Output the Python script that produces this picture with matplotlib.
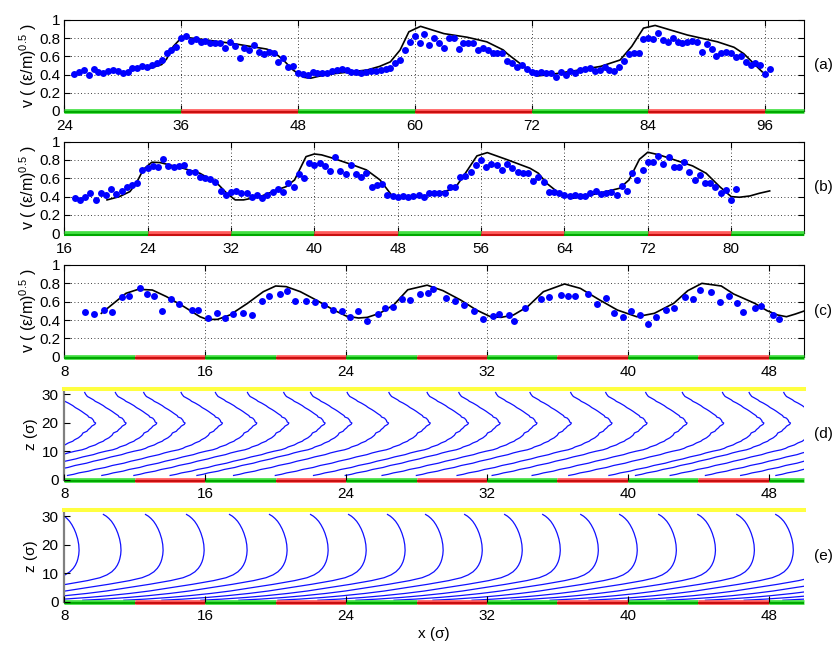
import numpy as np
import matplotlib
matplotlib.use('Agg')
import matplotlib.pyplot as plt
from matplotlib.transforms import offset_copy

plt.rcParams['font.family'] = ['Liberation Sans', 'DejaVu Sans']
plt.rcParams['mathtext.fontset'] = 'custom'
plt.rcParams['mathtext.rm'] = 'Liberation Sans'
plt.rcParams['mathtext.it'] = 'Liberation Sans:italic'
plt.rcParams['font.size'] = 11

# ---- panel (a): measured points and model curve ----
xa_dots = np.arange(25, 96.51, 0.5)
va_dots = [0.407, 0.432, 0.451, 0.396, 0.458, 0.432, 0.421, 0.443, 0.451, 0.440,
           0.421, 0.432, 0.469, 0.469, 0.495, 0.487, 0.505, 0.531, 0.560, 0.641,
           0.670, 0.707, 0.799, 0.824, 0.773, 0.788, 0.762, 0.773, 0.751, 0.744,
           0.744, 0.689, 0.762, 0.714, 0.579, 0.689, 0.670, 0.725, 0.652, 0.626,
           0.652, 0.634, 0.542, 0.579, 0.487, 0.495, 0.421, 0.407, 0.396, 0.432,
           0.421, 0.414, 0.421, 0.440, 0.451, 0.465, 0.451, 0.432, 0.432, 0.414,
           0.432, 0.436, 0.443, 0.447, 0.458, 0.469, 0.524, 0.560, 0.670, 0.762,
           0.824,
           0.744, 0.842, 0.725, 0.806, 0.751, 0.689, 0.799, 0.799, 0.678, 0.751,
           0.744, 0.744, 0.670, 0.689, 0.670, 0.641, 0.641, 0.641, 0.553, 0.531,
           0.487, 0.505, 0.458, 0.432, 0.421, 0.432, 0.421, 0.414, 0.377, 0.432,
           0.396, 0.443, 0.414, 0.451, 0.465, 0.469, 0.443, 0.451, 0.487, 0.451,
           0.443, 0.487, 0.549, 0.626, 0.641, 0.634, 0.788, 0.799, 0.788, 0.853,
           0.780, 0.762, 0.799, 0.762, 0.751, 0.762, 0.773, 0.762, 0.652, 0.736,
           0.678, 0.604, 0.634, 0.652, 0.641, 0.597, 0.604, 0.542, 0.505, 0.524,
           0.505, 0.407, 0.458]
xa_line = [32.8, 34.0, 34.5, 35.2, 35.9, 36.4, 37.9, 41.4, 44.8, 45.5, 46.5, 47.5,
           48.6, 49.3, 50.3, 51.7, 53.4, 55.1, 56.4, 57.5, 58.5, 59.4, 60.6, 63.0,
           65.4, 67.4, 69.1, 69.5, 71.2, 72.6, 73.9, 76.3, 79.1, 81.1, 82.3, 83.5,
           84.7, 88.0, 91.1, 92.8, 93.8, 95.7]
va_line = [0.47, 0.51, 0.57, 0.71, 0.79, 0.81, 0.79, 0.74, 0.68, 0.65, 0.56, 0.45,
           0.37, 0.36, 0.385, 0.41, 0.43, 0.45, 0.49, 0.54, 0.67, 0.87, 0.93, 0.85,
           0.81, 0.76, 0.67, 0.63, 0.49, 0.385, 0.40, 0.44, 0.49, 0.56, 0.71, 0.91,
           0.94, 0.835, 0.76, 0.70, 0.63, 0.43]
wall_a = [24, 36, 48, 60, 72, 84, 96, 100]

# ---- panel (b) ----
xb_dots = np.arange(17, 80.51, 0.5)
vb_dots = [0.382, 0.364, 0.400, 0.444, 0.364, 0.436, 0.418, 0.480, 0.429, 0.465,
           0.502, 0.527, 0.553, 0.691, 0.709, 0.735, 0.727, 0.807, 0.735, 0.727,
           0.735, 0.745, 0.673, 0.673, 0.611, 0.600, 0.589, 0.564, 0.465, 0.418,
           0.455, 0.462, 0.436, 0.436, 0.400, 0.418, 0.382, 0.418, 0.455, 0.480,
           0.455, 0.545, 0.509, 0.647, 0.600, 0.764, 0.745, 0.771, 0.735, 0.680,
           0.829, 0.684, 0.644, 0.745, 0.644, 0.611, 0.655, 0.509, 0.527, 0.538,
           0.418, 0.411, 0.400, 0.407, 0.400, 0.407,
           0.418, 0.400, 0.436, 0.444, 0.436, 0.444, 0.509, 0.509, 0.618, 0.625,
           0.665, 0.745, 0.800, 0.720, 0.756, 0.745, 0.691, 0.756, 0.716, 0.673,
           0.662, 0.662, 0.575, 0.611, 0.564, 0.455, 0.455, 0.436, 0.418, 0.407,
           0.418, 0.407, 0.407, 0.436, 0.465, 0.429, 0.444, 0.455, 0.418, 0.516,
           0.465, 0.655, 0.582, 0.691, 0.782, 0.775, 0.844, 0.756, 0.836, 0.720,
           0.727, 0.775, 0.673, 0.582, 0.636, 0.545, 0.553, 0.502, 0.444, 0.473,
           0.364, 0.480]
xb_line = [20.1, 21.3, 22.3, 22.9, 23.6, 24.4, 25.2, 27.4, 29.0, 30.6, 31.6, 32.4,
           33.2, 34.8, 36.4, 37.3, 38.1, 39.2, 40.0, 40.7, 41.8, 43.7, 45.0, 46.3,
           47.4, 48.2, 49.2, 51.1, 53.0, 53.6, 54.6, 55.6, 56.6, 58.4, 60.7, 61.5,
           62.3, 63.5, 64.8, 66.1, 68.0, 69.3, 70.2, 71.2, 72.0, 73.1, 74.4, 76.3,
           77.6, 78.9, 80.0, 80.8, 81.8, 82.7, 83.7]
vb_line = [0.364, 0.400, 0.455, 0.545, 0.698, 0.775, 0.771, 0.709, 0.655, 0.553,
           0.436, 0.364, 0.364, 0.400, 0.473, 0.509, 0.582, 0.836, 0.865, 0.855,
           0.818, 0.745, 0.691, 0.582, 0.418, 0.382, 0.382, 0.418, 0.473, 0.509,
           0.673, 0.844, 0.880, 0.807, 0.709, 0.655, 0.545, 0.436, 0.382, 0.407,
           0.455, 0.491, 0.582, 0.807, 0.884, 0.855, 0.807, 0.735, 0.655, 0.509,
           0.400, 0.393, 0.407, 0.436, 0.462]
wall_b = [16, 24, 32, 40, 48, 56, 64, 72, 80, 87]

# ---- panel (c) ----
xc_dots = [9.17, 9.71, 10.26, 10.69, 11.26, 11.68, 12.30, 12.72, 13.10, 13.57,
           14.06, 14.54, 15.24, 15.61, 16.18, 16.69, 17.13, 17.60, 18.17, 18.65,
           19.21, 19.65, 20.26, 20.67, 21.11, 21.73, 22.24, 22.72, 23.23, 23.76,
           24.23, 24.65, 25.18, 25.79, 26.22, 26.66, 27.17, 27.60, 28.17,
           28.64, 28.96, 29.68, 30.20, 30.71, 31.27, 31.80, 32.34, 32.66, 33.23,
           33.55, 34.17, 35.06, 35.54, 36.20, 36.60, 37.01, 37.71, 38.24, 38.77,
           39.19, 39.70, 40.18, 40.71, 41.12, 41.62, 42.16, 42.64, 43.26, 43.68,
           44.12, 44.72, 45.21, 45.76, 46.20, 46.52, 47.20, 47.58, 48.24, 48.60]
vc_dots = [0.491, 0.465, 0.509, 0.484, 0.647, 0.662, 0.745, 0.680, 0.665, 0.502,
           0.625, 0.575, 0.509, 0.509, 0.418, 0.473, 0.418, 0.462, 0.480, 0.451,
           0.607, 0.662, 0.680, 0.720, 0.607, 0.611, 0.600, 0.564, 0.509, 0.498,
           0.436, 0.495, 0.393, 0.462, 0.527, 0.545, 0.625, 0.618, 0.680,
           0.698, 0.735, 0.644, 0.607, 0.564, 0.502, 0.407, 0.444, 0.462, 0.455,
           0.389, 0.527, 0.625, 0.655, 0.673, 0.665, 0.665, 0.684, 0.575, 0.636,
           0.480, 0.429, 0.498, 0.451, 0.356, 0.436, 0.509, 0.527, 0.655, 0.625,
           0.727, 0.709, 0.593, 0.665, 0.589, 0.491, 0.527, 0.553, 0.455, 0.411]
xc_line = [10.1, 10.8, 11.5, 12.2, 13.0, 13.8, 14.8, 15.7, 16.1, 16.7, 17.4, 18.4,
           19.3, 20.0, 20.6, 21.4, 22.3, 23.3, 24.0, 24.7, 25.2, 25.9, 26.7, 27.5,
           28.6, 29.5, 30.5, 31.4, 32.2, 32.8, 33.5, 34.3, 35.2, 36.4, 37.3, 38.4,
           39.4, 40.5, 41.5, 42.6, 43.4, 44.2, 45.3, 46.0, 47.2, 47.9, 48.5, 49.0,
           49.5, 50.0]
vc_line = [0.473, 0.582, 0.691, 0.735, 0.727, 0.655, 0.545, 0.436, 0.407, 0.407,
           0.455, 0.582, 0.709, 0.771, 0.764, 0.709, 0.618, 0.509, 0.444, 0.422,
           0.429, 0.473, 0.564, 0.730, 0.780, 0.720, 0.618, 0.509, 0.436, 0.429,
           0.455, 0.545, 0.709, 0.793, 0.745, 0.618, 0.509, 0.436, 0.473, 0.582,
           0.720, 0.800, 0.771, 0.684, 0.582, 0.502, 0.455, 0.436, 0.465, 0.498]
wall_c = [8, 12, 16, 20, 24, 28, 32, 36, 40, 44, 48, 50]

# ---- panel (d): simulated material lines (one traced profile, tip positions) ----
d_z = [30.6, 30.0, 29.2, 28.7, 28.0, 27.5, 26.9, 26.0, 25.3, 24.6, 24.0, 23.2,
       22.5, 22.0, 21.6, 20.8, 20.3, 19.9, 19.4, 18.8, 18.2, 17.6, 17.0, 16.4,
       15.6, 14.7, 14.0, 13.5, 12.9, 12.2, 11.5, 11.0, 10.5, 10.0, 9.4, 8.8,
       8.0, 7.3, 6.5, 5.8, 5.0, 4.3, 3.6, 3.0, 2.4, 1.9, 1.5]
d_dx = [-2.35, -2.30, -2.20, -2.05, -1.85, -1.75, -1.55, -1.30, -1.15, -0.95, -0.80, -0.62,
        -0.45, -0.40, -0.23, -0.12, -0.10, 0.00, -0.05, -0.22, -0.30, -0.42, -0.50, -0.72,
        -0.80, -0.98, -1.20, -1.30, -1.55, -1.75, -2.10, -2.25, -2.50, -2.90, -3.30, -3.60,
        -4.20, -4.60, -5.20, -5.60, -6.25, -6.65, -7.25, -7.60, -8.15, -8.45, -8.80]
d_tips = [9.78, 11.51, 13.25, 14.86, 16.98, 18.93, 20.75, 22.81, 24.33, 26.41,
          28.78, 30.95, 32.75, 34.84, 36.79, 39.10, 41.09, 43.36, 45.44, 47.72,
          49.23, 51.2, 53.2, 55.2, 57.2, 59.2]

# ---- panel (e): theory material lines ----
e_z = [30.6, 30.0, 29.2, 28.2, 27.0, 25.5, 24.0, 22.0, 20.0, 18.0, 16.5, 15.0,
       14.0, 12.8, 11.7, 10.5, 9.4, 8.4, 7.4, 6.1, 5.0, 3.75, 2.9, 2.1, 1.5, 0.9, 0.5]
e_dx = [-1.00, -0.84, -0.69, -0.54, -0.41, -0.28, -0.18, -0.08, -0.02, 0.00, -0.02, -0.07,
        -0.12, -0.21, -0.33, -0.52, -0.80, -1.20, -1.90, -3.10, -4.25, -5.55, -6.65, -7.90,
        -9.00, -10.4, -11.6]
e_tips = [8.84, 11.22, 13.61, 15.94, 18.38, 20.65, 22.98, 25.14, 27.35, 29.51,
          31.73, 34.00, 36.16, 38.32, 40.53, 42.75, 44.97, 47.18, 49.39, 51.6,
          53.8, 56.0, 58.2, 60.4, 62.6]

GREEN = ('#44e044', '#00a800')
RED = ('#ff5c5c', '#c80f0f')

fig = plt.figure(figsize=(8.34, 6.46), dpi=100)
L, W = 0.0771, 0.887
axa = fig.add_axes([L, 0.8282, W, 0.1409])
axb = fig.add_axes([L, 0.6389, W, 0.1419])
axc = fig.add_axes([L, 0.4478, W, 0.1420])
axd = fig.add_axes([L, 0.2574, W, 0.1412])
axe = fig.add_axes([L, 0.0686, W, 0.1412])


def draw_bar(ax, edges, zorder=3):
    shifted = offset_copy(ax.transData, fig=fig, y=-0.9, units='points')
    for i in range(len(edges) - 1):
        light, dark = GREEN if i % 2 == 0 else RED
        seg = [edges[i], edges[i + 1]]
        ax.plot(seg, [0, 0], color=light, lw=3.4, solid_capstyle='butt',
                clip_on=False, zorder=zorder)
        ax.plot(seg, [0, 0], color=dark, lw=1.5, solid_capstyle='butt',
                clip_on=False, zorder=zorder, transform=shifted)


def speed_panel(ax, xd, vd, xl, vl, walls, xticks, tag):
    ax.plot(xl, vl, color='k', lw=1.2, zorder=4)
    ax.plot(xd, vd, 'o', color='#0000ff', ms=5.0, mec='none', zorder=5)
    draw_bar(ax, walls)
    ax.set_xlim(walls[0], walls[-1])
    ax.set_ylim(0, 1)
    ax.set_xticks(xticks)
    ax.set_yticks([0, 0.2, 0.4, 0.6, 0.8, 1])
    ax.set_yticklabels(['0', '0.2', '0.4', '0.6', '0.8', '1'])
    ax.grid(True, color='k', linestyle=(0, (1, 3)), lw=0.6)
    ax.set_axisbelow(True)
    ax.tick_params(direction='in', top=True, right=True, length=4, pad=3)
    ax.tick_params(axis='x', pad=6)
    ax.set_ylabel('v ( (ε/m)$^{0.5}$ )', labelpad=0, fontsize=11.5)
    ax.text(1.013, 0.5, tag, transform=ax.transAxes, va='center', ha='left')


speed_panel(axa, xa_dots, va_dots, xa_line, va_line, wall_a, range(24, 97, 12), '(a)')
speed_panel(axb, xb_dots, vb_dots, xb_line, vb_line, wall_b, range(16, 81, 8), '(b)')
speed_panel(axc, xc_dots, vc_dots, xc_line, vc_line, wall_c, range(8, 49, 8), '(c)')


def line_panel(ax, shape_dx, shape_z, tips, tag):
    for t in tips:
        ax.plot(np.array(shape_dx) + t, shape_z, color='#1010ff', lw=0.9, zorder=2)
    ax.plot([8, 50], [32, 32], color='#ffff40', lw=2.9, clip_on=False, zorder=3)
    draw_bar(ax, wall_c, zorder=2.2)
    ax.set_xlim(8, 50)
    ax.set_ylim(0, 32)
    ax.set_xticks(range(8, 49, 8))
    ax.set_yticks([0, 10, 20, 30])
    ax.set_axisbelow(False)
    for s in ['top', 'right', 'bottom']:
        ax.spines[s].set_visible(False)
    ax.spines['left'].set_color('#808080')
    ax.spines['left'].set_linewidth(1.6)
    ax.tick_params(direction='in', length=4, pad=4)
    ax.tick_params(axis='x', pad=5)
    ax.set_ylabel('z (σ)', labelpad=3)
    ax.text(1.013, 0.5, tag, transform=ax.transAxes, va='center', ha='left')


line_panel(axd, d_dx, d_z, d_tips, '(d)')
line_panel(axe, e_dx, e_z, e_tips, '(e)')
axe.set_xlabel('x (σ)', labelpad=3)

fig.savefig('out.png', dpi=100)
